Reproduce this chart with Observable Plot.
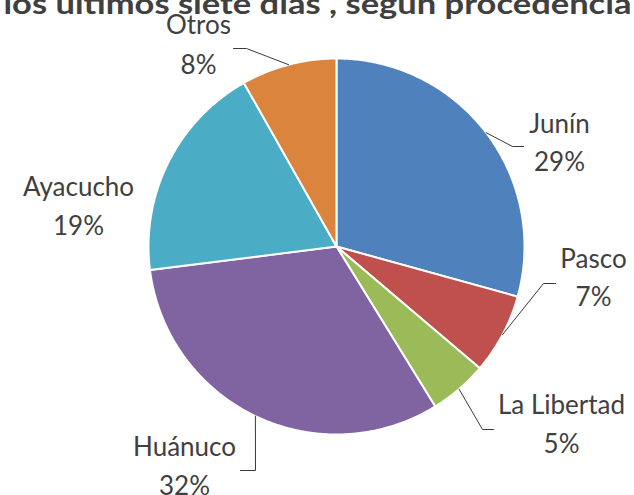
<!DOCTYPE html>
<html><head><meta charset="utf-8">
<script src="https://cdn.jsdelivr.net/npm/d3@7"></script>
<script src="https://cdn.jsdelivr.net/npm/@observablehq/plot@0.6"></script>
<style>
body{margin:0;background:#fff}
#chart{width:634px;height:495px;overflow:hidden}
</style>
</head><body><div id="chart"></div>
<script>
// ---- data ----
const title = "los últimos siete días , según procedencia";
const categories = ["Junín", "Pasco", "La Libertad", "Huánuco", "Ayacucho", "Otros"];
const shares = [29.3, 6.9, 5.0, 31.8, 18.8, 8.2];
const pctLabels = ["29%", "7%", "5%", "32%", "19%", "8%"];
const colors = ["#4F81BD", "#C0504D", "#9BBB59", "#8064A2", "#4BACC6", "#DB843D"];

// ---- layout (pixels) ----
const W = 634, H = 495, cx = 336, cy = 246, R = 188;
const labelLayout = {
  "Junín":       {x: 559, name: 132, pct: 170, elbow: [512, 146], end: [523, 146]},
  "Pasco":       {x: 593, name: 267, pct: 305, elbow: [543, 283], end: [555, 283]},
  "La Libertad": {x: 561, name: 413, pct: 452, elbow: [482, 429], end: [493, 429]},
  "Huánuco":     {x: 184, name: 455, pct: 494, elbow: [255, 470], end: [240, 470]},
  "Ayacucho":    {x: 78,  name: 195, pct: 234},
  "Otros":       {x: 198, name: 33,  pct: 73,  elbow: [246, 48],  end: [233, 48]}
};

const rows = categories.map((name, i) => ({name, value: shares[i], pct: pctLabels[i]}));
const arcs = d3.pie().sort(null).value(d => d.value)(rows);
const pt = (a, r) => [cx + r * Math.sin(a), cy - r * Math.cos(a)];

const slicePts = [];
arcs.forEach(a => {
  const n = Math.max(2, Math.ceil((a.endAngle - a.startAngle) / 0.01));
  slicePts.push({name: a.data.name, x: cx, y: cy});
  for (let k = 0; k <= n; k++) {
    const [x, y] = pt(a.startAngle + (a.endAngle - a.startAngle) * k / n, R);
    slicePts.push({name: a.data.name, x, y});
  }
});

const leaderPts = [];
arcs.forEach(a => {
  const L = labelLayout[a.data.name];
  if (!L.elbow) return;
  const [x0, y0] = pt((a.startAngle + a.endAngle) / 2, R);
  leaderPts.push({name: a.data.name, x: x0, y: y0});
  leaderPts.push({name: a.data.name, x: L.elbow[0], y: L.elbow[1]});
  leaderPts.push({name: a.data.name, x: L.end[0], y: L.end[1]});
});

const labels = rows.map(r => ({...r, lx: labelLayout[r.name].x, ny: labelLayout[r.name].name, py: labelLayout[r.name].pct}));

const chart = Plot.plot({
  width: W, height: H, margin: 0,
  style: {background: "#fff"},
  x: {domain: [0, W], range: [0, W], axis: null},
  y: {domain: [0, H], range: [0, H], axis: null},
  color: {domain: categories, range: colors},
  marks: [
    Plot.line(slicePts, {x: "x", y: "y", z: "name", fill: "name", stroke: "white", strokeWidth: 2, curve: "linear-closed"}),
    Plot.line(leaderPts, {x: "x", y: "y", z: "name", stroke: "#3a3a3a", strokeWidth: 1}),
    Plot.text(labels, {x: "lx", y: "ny", text: "name", lineAnchor: "bottom", textAnchor: "middle", fontSize: 26, fontFamily: "Lato", fill: "#404040"}),
    Plot.text(labels, {x: "lx", y: "py", text: "pct", lineAnchor: "bottom", textAnchor: "middle", fontSize: 26, fontFamily: "Lato", fill: "#404040"}),
    Plot.text([title], {frameAnchor: "top", dy: 13, lineAnchor: "bottom", textAnchor: "middle", fontSize: 29, fontWeight: "bold", fontFamily: "Lato", fill: "#404040"})
  ]
});
// stretch title to the reference's width
chart.querySelectorAll("text").forEach(t => {
  if (t.textContent === title) {
    t.setAttribute("textLength", 628);
    t.setAttribute("lengthAdjust", "spacingAndGlyphs");
  }
});
document.getElementById("chart").appendChild(chart);
</script>
</body></html>
